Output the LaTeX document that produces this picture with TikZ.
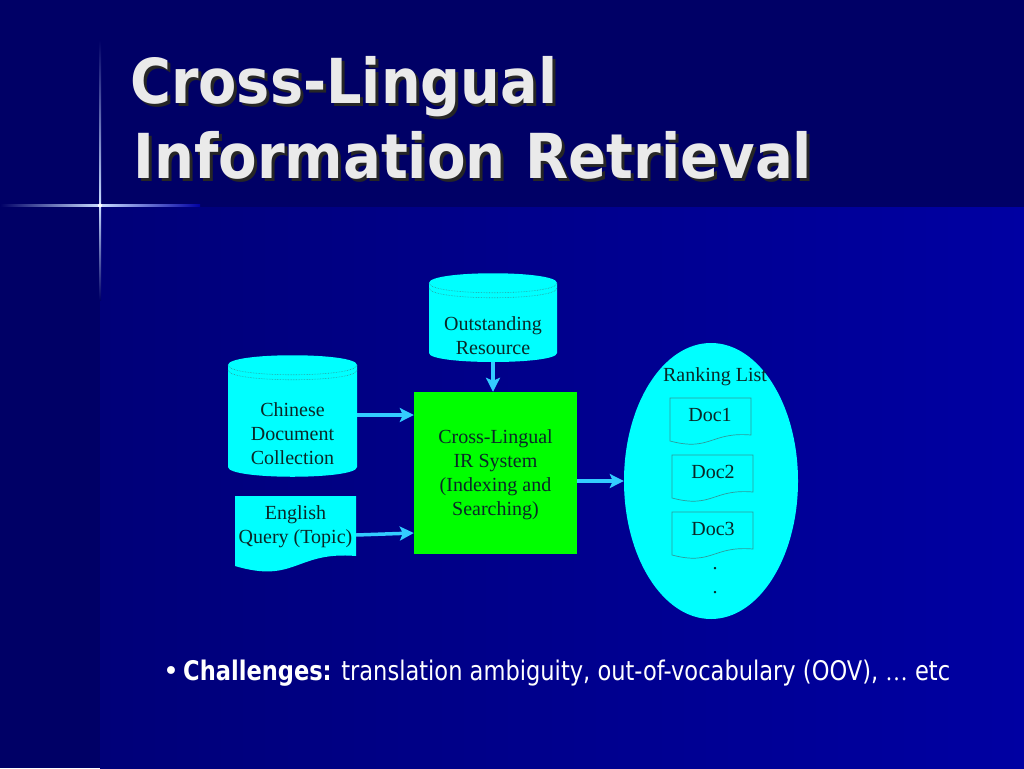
\documentclass[tikz,border=0pt]{standalone}
\usepackage{fontspec}
\setmainfont{Liberation Serif}
\newfontfamily\tahoma{DejaVu Sans}
\usetikzlibrary{arrows.meta,calc,shapes.geometric}
\definecolor{bgtop}{HTML}{000066}
\definecolor{bgL}{HTML}{000078}
\definecolor{bgR}{HTML}{0000A2}
\definecolor{glow}{HTML}{C8DCFF}
\definecolor{cyanfill}{HTML}{00FFFF}
\definecolor{arrowc}{HTML}{33CCFF}
\definecolor{greenbox}{HTML}{00FF00}
\definecolor{txt}{HTML}{0A2828}
\definecolor{edge}{HTML}{2E9A9A}
\definecolor{titlec}{HTML}{EAEAEA}
\tikzset{
  lbl/.style={text=txt, font=\fontsize{20}{24}\selectfont, align=center, inner sep=0pt},
  arr/.style={draw=arrowc, line width=3.5pt, -{Stealth[length=14pt,width=14pt,inset=3pt]}},
  cylfill/.style={fill=cyanfill},
  cylline/.style={draw=edge, line width=0.6pt, densely dotted},
  docline/.style={fill=cyanfill, draw=edge, line width=0.7pt},
  ttl/.style={anchor=base west, inner sep=0pt, font=\tahoma\bfseries\fontsize{62}{75}\selectfont},
  body/.style={anchor=base west, inner sep=0pt, text=white, font=\tahoma\fontsize{27}{32}\selectfont}
}
\begin{document}
\begin{tikzpicture}[x=1pt,y=-1pt]
\useasboundingbox (0,0) rectangle (1024,768);
% background
\fill[bgtop] (0,0) rectangle (1024,768);
\shade[left color=bgL, right color=bgR] (100,207) rectangle (1024,768);
\shade[left color=bgtop, right color=glow] (0,204.5) rectangle (100,206.5);
\shade[left color=glow, right color=bgR] (100,204.5) rectangle (200,206.5);
\shade[top color=bgtop, bottom color=glow] (99,40) rectangle (101,205);
\shade[top color=glow, bottom color=bgtop] (99,205) rectangle (101,300);
\fill[white] (100,205.5) circle (2);
% title
\node[ttl, text=black!85] (t1s) at (133,106) {\resizebox{427pt}{\height}{Cross-Lingual}};
\node[ttl, text=titlec] (t1) at (130,103) {\resizebox{427pt}{\height}{Cross-Lingual}};
\node[ttl, text=black!85] (t2s) at (136,181) {\resizebox{679pt}{\height}{Information Retrieval}};
\node[ttl, text=titlec] (t2) at (133,178) {\resizebox{679pt}{\height}{Information Retrieval}};
% ranking ellipse and system box
\node[ellipse, fill=cyanfill, inner sep=0pt, minimum width=174, minimum height=276] (rank) at (711,481) {};
\node[lbl, fill=greenbox, minimum width=163, minimum height=162, text depth=-3pt] (box) at (495.5,473)
  {Cross-Lingual\\IR System\\(Indexing and\\Searching)};
% Outstanding Resource cylinder
\fill[cylfill] (429,283) -- (429,353) .. controls (429,365) and (557,365) .. (557,353)
  -- (557,283) .. controls (557,270) and (429,270) .. cycle;
\draw[cylline] (429,283) .. controls (429,296) and (557,296) .. (557,283);
\draw[cylline] (429,288) .. controls (429,301) and (557,301) .. (557,288);
% Chinese Document Collection cylinder
\fill[cylfill] (228,365) -- (228,467) .. controls (228,480) and (357,480) .. (357,467)
  -- (357,365) .. controls (357,352) and (228,352) .. cycle;
\draw[cylline] (228,365) .. controls (228,378) and (357,378) .. (357,365);
\draw[cylline] (228,370) .. controls (228,383) and (357,383) .. (357,370);
% English query document
\fill[cylfill] (235,496) -- (356,496) -- (356,556) .. controls (295.5,551) and (295.5,584) .. (235,566) -- cycle;
% ranking list documents
\draw[docline] (670,398) -- (751,398) -- (751,435) .. controls (710.5,431.6) and (710.5,451.8) .. (670,441) -- cycle;
\draw[docline] (672,455) -- (753,455) -- (753,492) .. controls (712.5,488.6) and (712.5,508.8) .. (672,498) -- cycle;
\draw[docline] (672,512) -- (753,512) -- (753,549) .. controls (712.5,545.6) and (712.5,565.8) .. (672,555) -- cycle;
% text nodes
\node[lbl, minimum width=128, minimum height=52] (out) at (493,336) {Outstanding\\Resource};
\node[lbl, minimum width=129, minimum height=88] (chin) at (292.5,434) {Chinese\\Document\\Collection};
\node[lbl, minimum width=121, minimum height=40] (eng) at (295.5,527) {English\\Query (Topic)};
\node[lbl] (rl) at (715,377) {Ranking List};
\node[lbl] (d1) at (710,415) {Doc1};
\node[lbl] (d2) at (713,472) {Doc2};
\node[lbl] (d3) at (713,529) {Doc3};
\node[lbl] (dot1) at (715,569) {.};
\node[lbl] (dot2) at (715,593) {.};
% connectors
\draw[arr] (out.south) -- (out.south |- box.north);
\draw[arr] ([yshift=19pt]chin.east) -- ($(box.west |- chin.east)+(0,-19)$);
\draw[arr] ([yshift=-8pt]eng.east) -- ($(box.west |- eng.east)+(0,6)$);
\draw[arr] (box.east |- rank.west) -- (rank.west);
% challenges
\node[body] (bul) at (163,680) {•};
\node[body] (chal) at (183,680) {\resizebox{767pt}{\height}{\textbf{Challenges:} translation ambiguity, out-of-vocabulary (OOV), {\rmfamily …} etc}};
\end{tikzpicture}
\end{document}
